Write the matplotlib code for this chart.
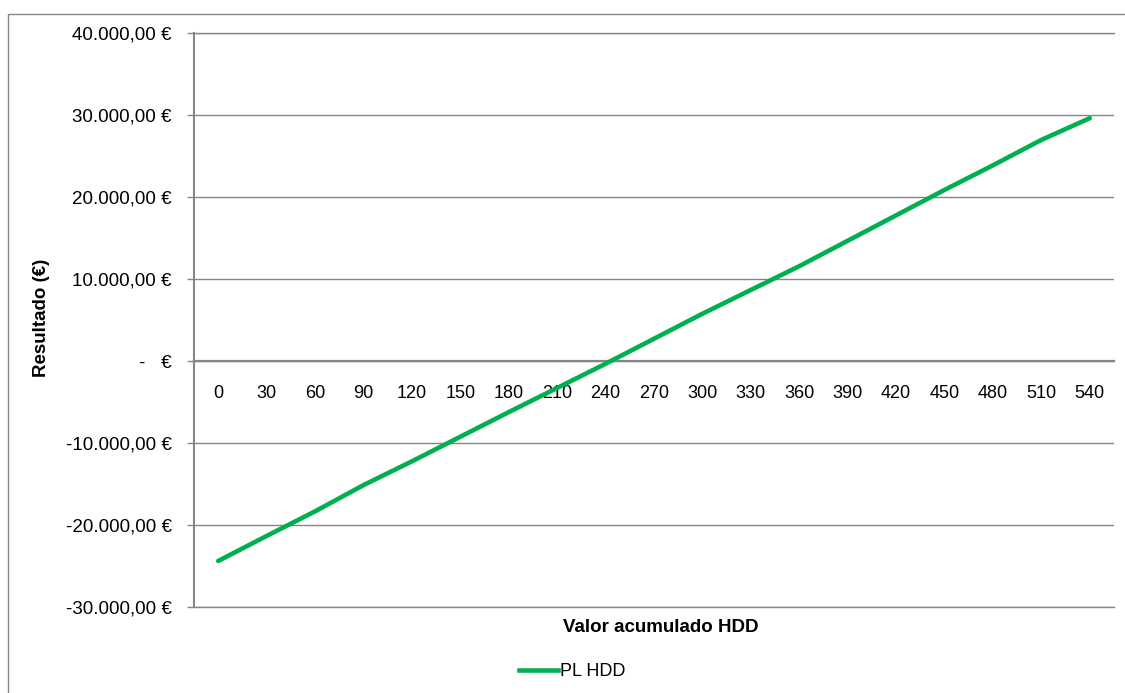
import numpy as np
import matplotlib.pyplot as plt
from matplotlib.lines import Line2D
from matplotlib.patches import Rectangle

plt.rcParams['font.family'] = ['Liberation Sans', 'DejaVu Sans']

# cumulative HDD categories and profit/loss of the position
hdd = [0, 30, 60, 90, 120, 150, 180, 210, 240, 270, 300, 330, 360, 390, 420, 450, 480, 510, 540]
pl_hdd = [-24350, -21300, -18300, -15100, -12200, -9200, -6200, -3250, -300, 2750,
          5800, 8700, 11600, 14700, 17800, 20900, 23900, 27000, 29650]
y_ticks = [-30000, -20000, -10000, 0, 10000, 20000, 30000, 40000]

GRID = '#868686'
GREEN = '#00B050'


def euro(v):
    # accounting style: 1.234,00 €  and a dash for zero
    if v == 0:
        return '-   €'
    s = f"{v:,.2f}".replace(',', 'X').replace('.', ',').replace('X', '.')
    return s + ' €'


W, H = 1125, 693
fig = plt.figure(figsize=(W / 100, H / 100), dpi=100)

# outer chart border
fig.patches.append(Rectangle((8 / W, -0.1), 1.2, (1 - 14 / H) + 0.1,
                             transform=fig.transFigure, fill=False,
                             edgecolor=GRID, linewidth=1.0))

left, right, top, bottom = 194, 1114, 33.3, 607.3
ax = fig.add_axes([left / W, 1 - bottom / H, (right - left) / W, (bottom - top) / H])

x = np.arange(len(hdd))
ax.plot(x, pl_hdd, color=GREEN, linewidth=3.3, solid_capstyle='round', zorder=3)

ax.set_xlim(-0.5, len(hdd) - 0.5)
ax.set_ylim(y_ticks[0], y_ticks[-1])

ax.set_yticks(y_ticks)
ax.set_yticklabels([euro(v) for v in y_ticks])
ax.yaxis.grid(True, color=GRID, linewidth=1.0)
ax.axhline(y_ticks[0], color=GRID, linewidth=1.0, clip_on=False, zorder=1)
ax.axhline(y_ticks[-1], color=GRID, linewidth=1.0, clip_on=False, zorder=1)
ax.set_axisbelow(True)
ax.tick_params(axis='y', length=5, width=1.0, color=GRID, pad=11, labelsize=13.5)

ax.set_xticks(x)
ax.set_xticklabels([str(h) for h in hdd])
ax.tick_params(axis='x', length=0, pad=17, labelsize=13)

for s in ['top', 'right']:
    ax.spines[s].set_visible(False)
ax.spines['left'].set_color(GRID)
ax.spines['left'].set_linewidth(1.5)
ax.spines['bottom'].set_position(('data', 0))
ax.spines['bottom'].set_color(GRID)
ax.spines['bottom'].set_linewidth(1.6)

fig.text(661 / W, 1 - 627 / H, 'Valor acumulado HDD', ha='center', va='center',
         fontsize=13.5, fontweight='bold')
fig.text(42 / W, 1 - 318 / H, 'Resultado (€)', ha='center', va='center',
         rotation=90, fontsize=13.5, fontweight='bold')

handle = Line2D([], [], color=GREEN, linewidth=3.3)
fig.legend([handle], ['PL HDD'], loc='center', bbox_to_anchor=(572 / W, 1 - 672 / H),
           frameon=False, fontsize=13, handlelength=2.2, handletextpad=0.1)

fig.savefig('out.png', dpi=100)
